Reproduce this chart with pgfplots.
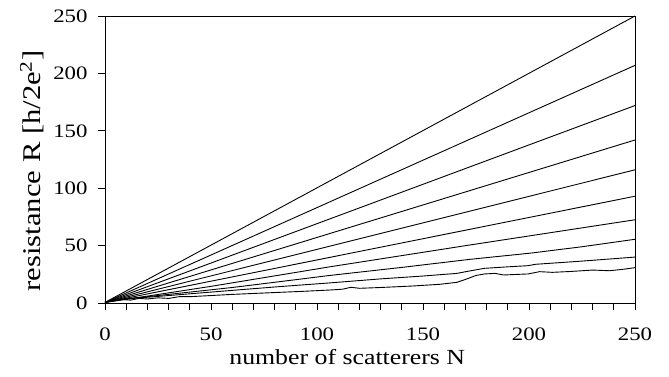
\documentclass[border=0pt]{standalone}
\usepackage{pgfplots}
\pgfplotsset{compat=1.18}
\usepackage{fontspec}
\setmainfont{Liberation Serif}[FakeStretch=1.2]
\begin{document}
\begin{tikzpicture}
\begin{axis}[
  at={(0,0)}, anchor=south west,
  width=530pt, height=287pt, scale only axis,
  xmin=0, xmax=250, ymin=0, ymax=250,
  xtick={0,50,...,250}, ytick={0,50,...,250},
  minor x tick num=4,
  tick align=outside,
  xtick pos=bottom, ytick pos=left,
  major tick length=7pt, minor tick length=7pt,
  tick style={black, line width=0.7pt},
  axis line style={black, line width=0.8pt},
  /pgf/number format/assume math mode=true,
  ticklabel style={font=\fontsize{19}{22}\selectfont},
  xticklabel style={yshift=-14pt},
  yticklabel style={xshift=-7pt},
  xlabel={number of scatterers N},
  ylabel={resistance R [h/2e\textsuperscript{2}]},
  xlabel style={font=\fontsize{21.5}{26}\selectfont, at={(axis description cs:0.457,-0.215)}, anchor=base},
  ylabel style={font=\fontsize{25.5}{30}\selectfont, at={(ticklabel cs:0.46)}, yshift=2pt},
  cycle list={{black,solid,mark=none}},
  every axis plot/.append style={black, line width=0.9pt, mark=none, solid},
]
\addplot coordinates {(0,0.5) (250,250)};
\addplot coordinates {(0,0.5) (250,207)};
\addplot coordinates {(0,0.5) (250,172)};
\addplot coordinates {(0,0.5) (250,142)};
\addplot coordinates {(0,0.5) (250,116)};
\addplot coordinates {(0,0.5) (250,93)};
\addplot coordinates {(0,0.5) (20,6) (50,14.5) (106,31.5) (172,50.5) (250,72.5)};
\addplot coordinates {(0,0.5) (10,3.5) (20,5.5) (40,9.5) (60,13.5) (82.5,18.6) (106,24) (140,31) (172,38) (201,43.5) (225,49) (250,55.5)};
\addplot coordinates {(0,0.5) (5,2.5) (10,3.5) (15,4.5) (20,5) (30,6.5) (40,8) (50,9.5) (60,11) (82.5,14.3) (106,17.5) (130,21) (150,23.5) (166,25.8) (172,27.9) (179,30.2) (190,31.5) (199.5,32.5) (203,33.7) (225,36.5) (250,40)};
\addplot coordinates {(0,0.5) (4,2) (8,3) (12,2.5) (16,4) (20,3.5) (25,4.5) (30,4) (35,5.5) (40,5.5) (50,6.5) (60,7.5) (70,8.3) (82.5,9.3) (95,10.3) (106,11.3) (112,12) (116,13.7) (120,12.8) (130,13.5) (145,14.8) (158,16.3) (166,18) (170,20.5) (175,24) (179,25.3) (184,25.8) (188,24.4) (193,24.8) (199.5,25.3) (205,27.3) (211,26.7) (220,27.5) (230,28.7) (238,28.1) (245,29.5) (250,30.8)};
\end{axis}
\pgfresetboundingbox
\path (-105pt,-74pt) rectangle (564pt,303pt);
\end{tikzpicture}
\end{document}
